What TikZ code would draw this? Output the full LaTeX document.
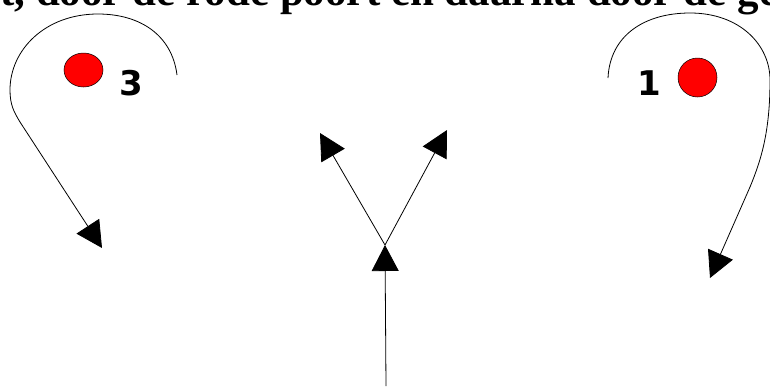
\documentclass[tikz,border=0pt]{standalone}
\usepackage{fontspec}
\setmainfont{Liberation Serif}
\newfontfamily\digitfont{DejaVu Sans}
\usetikzlibrary{arrows.meta,shapes.geometric}
\tikzset{
  flow/.style={draw=black, line width=0.8pt, -{Triangle[length=26pt,width=27pt]}},
  loop/.style={draw=black, line width=0.8pt},
  ball/.style={ellipse, draw=black, line width=0.5pt, fill=red, inner sep=0pt},
  num/.style={font=\digitfont\bfseries\fontsize{34}{38}\selectfont, inner sep=0pt},
  titletext/.style={font=\bfseries\fontsize{43}{48}\selectfont, inner sep=0pt, anchor=base west}
}
\begin{document}
\begin{tikzpicture}[x=1pt,y=-1pt]
\useasboundingbox (0,0) rectangle (770,386);
\node[titletext] (title) at (0,5) {t, door de rode poort en daarna door de ge};
% left loop
\node[ball, minimum width=39pt, minimum height=34pt] (redL) at (83.5,70) {};
\node[num] (n3) at (131,83.5) {3};
\coordinate (Ls) at (177,75);
\coordinate (Lt) at (98,14);
\coordinate (Ll) at (10,90);
\coordinate (Lk) at (20,122);
\coordinate (Le) at (102,248);
\draw[loop] (Ls) .. controls (172,35) and (140,14) .. (Lt)
  .. controls (45,14) and (10,50) .. (Ll)
  .. controls (10,105) and (14,112) .. (Lk);
\draw[flow] (Lk) -- (Le);
% right loop
\node[ball, minimum width=39pt, minimum height=39pt] (redR) at (697.5,77.5) {};
\node[num] (n1) at (649.5,83.5) {1};
\coordinate (Rs) at (608,78);
\coordinate (Rt) at (690,13);
\coordinate (Rr) at (770,80);
\coordinate (Rk) at (750,187);
\coordinate (Re) at (710,278);
\draw[loop] (Rs) .. controls (610,35) and (645,13) .. (Rt)
  .. controls (740,13) and (770,45) .. (Rr)
  .. controls (770,130) and (762,158) .. (Rk);
\draw[flow] (Rk) -- (Re);
% center
\coordinate (Cb) at (386,386);
\coordinate (Cm) at (385,245);
\coordinate (Cl) at (320,133);
\coordinate (Cr) at (447,130);
\draw[flow] (Cb) -- (Cm);
\draw[flow] (Cm) -- (Cl);
\draw[flow] (Cm) -- (Cr);
\end{tikzpicture}
\end{document}
